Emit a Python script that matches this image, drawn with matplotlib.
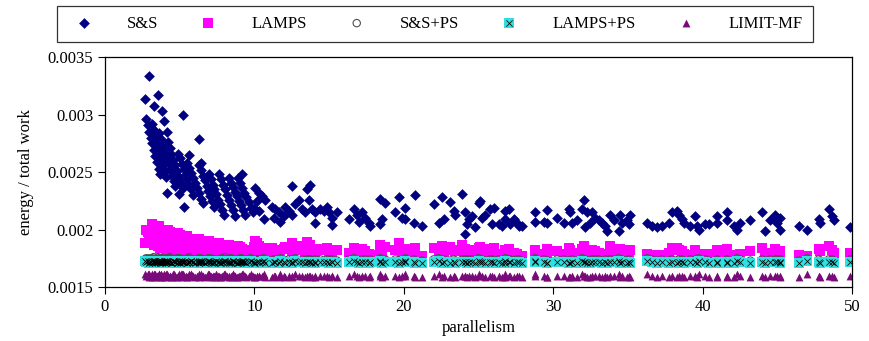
import matplotlib
matplotlib.use("Agg")
import matplotlib.pyplot as plt
from matplotlib.legend_handler import HandlerTuple
from matplotlib.ticker import FuncFormatter

plt.rcParams["font.family"] = ["Liberation Serif", "DejaVu Serif"]
plt.rcParams["font.size"] = 12

# parallelism of each benchmark run (shared by all five schedulers)
parallelism = [
    # dense low-parallelism runs
    2.75, 2.86, 2.96, 3.07, 3.17, 3.28, 3.38, 3.49, 3.59, 3.70,
    3.15, 3.26, 3.36, 3.47, 3.57, 3.68, 3.78, 3.89, 3.99, 4.10,
    3.60, 3.72, 3.85, 3.98, 4.10, 4.22, 4.35, 4.48, 4.60,
    4.20, 4.32, 4.45, 4.58, 4.70, 4.82, 4.95, 5.08, 5.20,
    4.90, 5.02, 5.15, 5.28, 5.40, 5.52, 5.65, 5.78, 5.90,
    5.50, 5.63, 5.76, 5.89, 6.02, 6.16, 6.29, 6.42, 6.55,
    6.30, 6.42, 6.55, 6.68, 6.80, 6.92, 7.05, 7.18, 7.30,
    6.95, 7.07, 7.20, 7.33, 7.45, 7.57, 7.70, 7.83, 7.95,
    7.60, 7.74, 7.88, 8.01, 8.15, 8.29, 8.43, 8.56, 8.70,
    8.30, 8.44, 8.58, 8.71, 8.85, 8.99, 9.13, 9.26, 9.40,
    8.90, 9.04, 9.19, 9.33, 9.47, 9.61, 9.76, 9.90,
    2.92, 2.70, 3.55, 3.26, 3.82, 5.20, 3.92, 4.15, 6.27, 5.64,
    6.45, 4.15, 5.27, 4.71, 4.93, 9.15,
    # 10 .. 30
    10.06, 10.29, 10.51, 10.73, 10.17, 9.95, 10.29, 10.62, 11.18, 11.40,
    11.62, 11.29, 11.74, 11.96, 12.07, 12.29, 12.52, 12.52, 12.96, 12.74,
    13.19, 13.41, 13.52, 13.74, 13.63, 13.86, 14.08, 14.08, 14.41, 14.64,
    14.86, 14.97, 15.19, 15.19, 15.53, 16.31, 16.64, 16.87, 17.20, 16.98,
    17.43, 17.65, 17.76, 18.43, 18.76, 18.54, 18.43, 19.43, 19.66, 20.10,
    19.88, 20.10, 20.77, 20.66, 21.22, 22.00, 22.56, 22.33, 22.67, 23.11,
    23.34, 23.90, 23.45, 24.12, 24.34, 24.23, 24.57, 24.79, 24.12, 25.01,
    25.12, 25.23, 25.46, 25.79, 26.01, 25.90, 26.35, 26.57, 26.80, 27.02,
    26.80, 27.13, 27.35, 27.58, 27.69, 27.91, 28.80, 28.80, 29.59, 29.36, 29.59,
    # 30 .. 50
    30.26, 30.70, 31.04, 31.15, 31.26,
    31.59, 32.04, 31.93, 32.26, 32.60, 32.49, 32.15, 32.82, 33.04, 33.27,
    33.49, 33.60, 33.83, 34.05, 34.38, 34.50, 34.61, 34.94, 35.16, 35.05,
    36.28, 36.61, 36.95, 37.28, 37.73, 37.95, 38.29, 38.40, 38.62, 38.73,
    39.18, 39.52, 39.63, 39.74, 40.18, 40.41, 40.97, 40.97,
    41.63, 41.63, 42.08, 42.30, 42.53, 43.20, 43.98, 44.20, 44.53, 44.87,
    44.98, 45.20, 45.20, 46.43, 46.99, 47.77, 47.88, 48.44, 48.66, 48.77, 49.89,
]

ss = [
    0.00296, 0.00291, 0.00285, 0.00280, 0.00275, 0.00269, 0.00264, 0.00259, 0.00253, 0.00248,
    0.00292, 0.00287, 0.00282, 0.00277, 0.00272, 0.00266, 0.00261, 0.00256, 0.00251, 0.00246,
    0.00284, 0.00279, 0.00273, 0.00268, 0.00263, 0.00258, 0.00252, 0.00247, 0.00242,
    0.00276, 0.00271, 0.00266, 0.00261, 0.00256, 0.00251, 0.00246, 0.00241, 0.00236,
    0.00266, 0.00262, 0.00257, 0.00253, 0.00248, 0.00244, 0.00239, 0.00235, 0.00230,
    0.00258, 0.00254, 0.00249, 0.00245, 0.00241, 0.00236, 0.00232, 0.00227, 0.00223,
    0.00256, 0.00252, 0.00247, 0.00243, 0.00238, 0.00234, 0.00229, 0.00225, 0.00220,
    0.00248, 0.00244, 0.00239, 0.00235, 0.00231, 0.00226, 0.00222, 0.00217, 0.00213,
    0.00248, 0.00244, 0.00239, 0.00235, 0.00230, 0.00226, 0.00221, 0.00217, 0.00212,
    0.00245, 0.00241, 0.00237, 0.00233, 0.00229, 0.00225, 0.00221, 0.00217, 0.00213,
    0.00245, 0.00241, 0.00236, 0.00232, 0.00228, 0.00224, 0.00219, 0.00215,
    0.00334, 0.00314, 0.00317, 0.00308, 0.00303, 0.00300, 0.00295, 0.00285, 0.00279, 0.00265,
    0.00258, 0.00232, 0.00220, 0.00238, 0.00231, 0.00248,
    0.00236, 0.00232, 0.00229, 0.00226, 0.00225, 0.00219, 0.00216, 0.00209, 0.00220, 0.00218,
    0.00215, 0.00210, 0.00207, 0.00212, 0.00220, 0.00216, 0.00213, 0.00238, 0.00226, 0.00222,
    0.00218, 0.00215, 0.00235, 0.00239, 0.00226, 0.00218, 0.00215, 0.00206, 0.00218, 0.00216,
    0.00220, 0.00215, 0.00210, 0.00204, 0.00215, 0.00209, 0.00218, 0.00213, 0.00215, 0.00207,
    0.00210, 0.00206, 0.00203, 0.00227, 0.00223, 0.00209, 0.00205, 0.00215, 0.00228, 0.00219,
    0.00210, 0.00209, 0.00230, 0.00206, 0.00203, 0.00222, 0.00228, 0.00206, 0.00209, 0.00224,
    0.00216, 0.00231, 0.00213, 0.00215, 0.00209, 0.00205, 0.00212, 0.00202, 0.00196, 0.00223,
    0.00225, 0.00210, 0.00213, 0.00218, 0.00219, 0.00205, 0.00205, 0.00203, 0.00216, 0.00218,
    0.00209, 0.00205, 0.00209, 0.00206, 0.00203, 0.00203, 0.00215, 0.00207, 0.00217, 0.00207, 0.00206,
    0.00210, 0.00206, 0.00218, 0.00215, 0.00206,
    0.00208, 0.00226, 0.00218, 0.00215, 0.00215, 0.00206, 0.00202, 0.00210, 0.00208, 0.00206,
    0.00203, 0.00199, 0.00213, 0.00208, 0.00199, 0.00213, 0.00206, 0.00208, 0.00213, 0.00205,
    0.00206, 0.00203, 0.00202, 0.00203, 0.00206, 0.00215, 0.00216, 0.00213, 0.00209, 0.00206,
    0.00203, 0.00212, 0.00203, 0.00200, 0.00205, 0.00205, 0.00212, 0.00206,
    0.00215, 0.00208, 0.00203, 0.00200, 0.00206, 0.00208, 0.00215, 0.00199, 0.00208, 0.00213,
    0.00206, 0.00210, 0.00200, 0.00203, 0.00200, 0.00209, 0.00206, 0.00218, 0.00212, 0.00208, 0.00202,
]

lamps = [
    0.00200, 0.00198, 0.00196, 0.00195, 0.00193, 0.00191, 0.00189, 0.00188, 0.00186, 0.00184,
    0.00205, 0.00203, 0.00200, 0.00198, 0.00195, 0.00193, 0.00190, 0.00188, 0.00185, 0.00183,
    0.00203, 0.00200, 0.00197, 0.00195, 0.00192, 0.00189, 0.00186, 0.00184, 0.00181,
    0.00200, 0.00198, 0.00195, 0.00193, 0.00190, 0.00188, 0.00185, 0.00183, 0.00180,
    0.00197, 0.00195, 0.00193, 0.00190, 0.00188, 0.00186, 0.00184, 0.00181, 0.00179,
    0.00194, 0.00192, 0.00190, 0.00188, 0.00186, 0.00184, 0.00182, 0.00180, 0.00178,
    0.00192, 0.00190, 0.00188, 0.00186, 0.00185, 0.00183, 0.00181, 0.00179, 0.00177,
    0.00190, 0.00188, 0.00187, 0.00185, 0.00183, 0.00182, 0.00180, 0.00179, 0.00177,
    0.00188, 0.00187, 0.00185, 0.00184, 0.00183, 0.00181, 0.00180, 0.00179, 0.00177,
    0.00187, 0.00186, 0.00184, 0.00183, 0.00182, 0.00180, 0.00179, 0.00178, 0.00176,
    0.00186, 0.00185, 0.00183, 0.00182, 0.00181, 0.00179, 0.00178, 0.00176,
    0.00190, 0.00188, 0.00186, 0.00187, 0.00185, 0.00184, 0.00186, 0.00189, 0.00183, 0.00185,
    0.00182, 0.00181, 0.00180, 0.00182, 0.00181, 0.00180,
    0.00190, 0.00186, 0.00184, 0.00182, 0.00188, 0.00185, 0.00181, 0.00178, 0.00184, 0.00182,
    0.00180, 0.00179, 0.00177, 0.00183, 0.00185, 0.00183, 0.00181, 0.00188, 0.00186, 0.00184,
    0.00182, 0.00180, 0.00189, 0.00187, 0.00184, 0.00182, 0.00180, 0.00177, 0.00183, 0.00182,
    0.00184, 0.00181, 0.00179, 0.00177, 0.00182, 0.00180, 0.00184, 0.00182, 0.00183, 0.00179,
    0.00181, 0.00179, 0.00178, 0.00187, 0.00185, 0.00180, 0.00178, 0.00182, 0.00188, 0.00183,
    0.00180, 0.00179, 0.00184, 0.00178, 0.00177, 0.00184, 0.00186, 0.00179, 0.00180, 0.00185,
    0.00182, 0.00187, 0.00181, 0.00183, 0.00180, 0.00178, 0.00182, 0.00177, 0.00176, 0.00184,
    0.00185, 0.00180, 0.00181, 0.00183, 0.00184, 0.00178, 0.00179, 0.00178, 0.00182, 0.00183,
    0.00180, 0.00178, 0.00180, 0.00179, 0.00177, 0.00177, 0.00182, 0.00179, 0.00183, 0.00179, 0.00178,
    0.00181, 0.00179, 0.00184, 0.00182, 0.00178,
    0.00180, 0.00186, 0.00183, 0.00182, 0.00182, 0.00179, 0.00177, 0.00181, 0.00180, 0.00179,
    0.00178, 0.00176, 0.00186, 0.00181, 0.00176, 0.00183, 0.00179, 0.00180, 0.00182, 0.00178,
    0.00179, 0.00178, 0.00177, 0.00178, 0.00180, 0.00184, 0.00184, 0.00182, 0.00181, 0.00179,
    0.00178, 0.00182, 0.00178, 0.00176, 0.00179, 0.00179, 0.00182, 0.00179,
    0.00183, 0.00180, 0.00178, 0.00176, 0.00179, 0.00181, 0.00184, 0.00176, 0.00180, 0.00183,
    0.00179, 0.00181, 0.00177, 0.00178, 0.00177, 0.00183, 0.00181, 0.00186, 0.00182, 0.00180, 0.00180,
]

ss_ps = [
    0.00175, 0.00174, 0.00174, 0.00173, 0.00175, 0.00174, 0.00173, 0.00174, 0.00175, 0.00173,
    0.00174, 0.00176, 0.00174, 0.00173, 0.00174, 0.00175, 0.00174, 0.00173, 0.00174, 0.00174,
    0.00173, 0.00174, 0.00175, 0.00174, 0.00173, 0.00174, 0.00176, 0.00174, 0.00173, 0.00174,
    0.00175, 0.00173, 0.00174, 0.00174, 0.00175, 0.00173, 0.00174, 0.00174, 0.00173, 0.00175,
    0.00174, 0.00174, 0.00173, 0.00175, 0.00174, 0.00174, 0.00173, 0.00174, 0.00176, 0.00174,
    0.00173, 0.00174, 0.00174, 0.00175, 0.00174, 0.00173, 0.00174, 0.00175, 0.00174, 0.00173,
    0.00174, 0.00175, 0.00173, 0.00174, 0.00174, 0.00173, 0.00175, 0.00174, 0.00174, 0.00173,
    0.00174, 0.00173, 0.00175, 0.00174, 0.00173, 0.00174, 0.00174, 0.00176, 0.00174, 0.00173,
    0.00175, 0.00174, 0.00173, 0.00174, 0.00175, 0.00174, 0.00173, 0.00174, 0.00174, 0.00175,
    0.00174, 0.00173, 0.00174, 0.00175, 0.00174, 0.00173, 0.00174, 0.00174, 0.00175, 0.00174,
    0.00175, 0.00174, 0.00176, 0.00174, 0.00175, 0.00174, 0.00174, 0.00175, 0.00174, 0.00174,
    0.00174, 0.00175, 0.00174, 0.00174, 0.00175, 0.00174, 0.00173, 0.00174, 0.00174, 0.00173,
    0.00174, 0.00173, 0.00174, 0.00175, 0.00173, 0.00174, 0.00173, 0.00174, 0.00175, 0.00173,
    0.00173, 0.00174, 0.00173, 0.00174, 0.00173, 0.00175, 0.00174, 0.00173, 0.00174, 0.00174,
    0.00174, 0.00173, 0.00174, 0.00173, 0.00174, 0.00173, 0.00174, 0.00174, 0.00173, 0.00174,
    0.00173, 0.00174, 0.00175, 0.00173, 0.00174, 0.00173, 0.00174, 0.00173, 0.00174, 0.00175,
    0.00174, 0.00173, 0.00174, 0.00174, 0.00173, 0.00175, 0.00173, 0.00174, 0.00173, 0.00174,
    0.00173, 0.00174, 0.00173, 0.00175, 0.00174, 0.00173, 0.00174, 0.00174, 0.00173, 0.00174,
    0.00174, 0.00173, 0.00174, 0.00173, 0.00174, 0.00175, 0.00173, 0.00174, 0.00173, 0.00174,
    0.00173, 0.00174, 0.00174, 0.00173, 0.00175, 0.00174, 0.00173, 0.00174, 0.00173, 0.00174,
    0.00174, 0.00173, 0.00175, 0.00174, 0.00173, 0.00174, 0.00173, 0.00174, 0.00174, 0.00173,
    0.00173, 0.00174, 0.00173, 0.00174, 0.00175, 0.00173, 0.00174, 0.00173, 0.00174, 0.00174,
    0.00174, 0.00173, 0.00174, 0.00173, 0.00174, 0.00174, 0.00175, 0.00173, 0.00174, 0.00173,
    0.00173, 0.00174, 0.00175, 0.00174, 0.00173, 0.00174, 0.00173, 0.00174, 0.00173, 0.00174,
    0.00174, 0.00173, 0.00174, 0.00174, 0.00173, 0.00175, 0.00174, 0.00173, 0.00174, 0.00173,
    0.00173, 0.00174, 0.00173, 0.00175, 0.00174, 0.00173, 0.00174, 0.00173, 0.00174, 0.00174,
    0.00174, 0.00173, 0.00174, 0.00173, 0.00175, 0.00174, 0.00173, 0.00174, 0.00174, 0.00173,
    0.00174,
]

lamps_ps = [
    0.00172, 0.00173, 0.00171, 0.00172, 0.00173, 0.00172, 0.00171, 0.00172, 0.00173, 0.00172,
    0.00171, 0.00172, 0.00173, 0.00172, 0.00172, 0.00171, 0.00173, 0.00172, 0.00171, 0.00172,
    0.00173, 0.00172, 0.00171, 0.00172, 0.00173, 0.00172, 0.00172, 0.00171, 0.00173, 0.00172,
    0.00172, 0.00171, 0.00173, 0.00172, 0.00171, 0.00172, 0.00173, 0.00172, 0.00172, 0.00171,
    0.00173, 0.00172, 0.00172, 0.00171, 0.00172, 0.00173, 0.00172, 0.00171, 0.00172, 0.00173,
    0.00172, 0.00171, 0.00172, 0.00173, 0.00172, 0.00172, 0.00171, 0.00173, 0.00172, 0.00171,
    0.00172, 0.00173, 0.00172, 0.00171, 0.00172, 0.00173, 0.00172, 0.00172, 0.00171, 0.00173,
    0.00172, 0.00171, 0.00172, 0.00173, 0.00172, 0.00171, 0.00172, 0.00173, 0.00172, 0.00172,
    0.00171, 0.00173, 0.00172, 0.00171, 0.00172, 0.00173, 0.00172, 0.00171, 0.00172, 0.00172,
    0.00173, 0.00172, 0.00171, 0.00172, 0.00173, 0.00172, 0.00171, 0.00172, 0.00173, 0.00172,
    0.00172, 0.00173, 0.00172, 0.00173, 0.00172, 0.00172, 0.00173, 0.00172, 0.00172, 0.00172,
    0.00172, 0.00173, 0.00172, 0.00172, 0.00173, 0.00172, 0.00171, 0.00172, 0.00172, 0.00171,
    0.00172, 0.00171, 0.00172, 0.00173, 0.00171, 0.00172, 0.00171, 0.00172, 0.00173, 0.00172,
    0.00171, 0.00172, 0.00171, 0.00172, 0.00172, 0.00173, 0.00172, 0.00171, 0.00172, 0.00172,
    0.00172, 0.00171, 0.00172, 0.00171, 0.00172, 0.00172, 0.00172, 0.00171, 0.00172, 0.00172,
    0.00171, 0.00172, 0.00173, 0.00172, 0.00172, 0.00171, 0.00172, 0.00171, 0.00172, 0.00173,
    0.00172, 0.00171, 0.00172, 0.00172, 0.00171, 0.00173, 0.00172, 0.00172, 0.00171, 0.00172,
    0.00171, 0.00172, 0.00171, 0.00173, 0.00172, 0.00171, 0.00172, 0.00172, 0.00171, 0.00172,
    0.00172, 0.00171, 0.00172, 0.00171, 0.00172, 0.00173, 0.00172, 0.00172, 0.00171, 0.00172,
    0.00171, 0.00172, 0.00172, 0.00171, 0.00173, 0.00172, 0.00171, 0.00172, 0.00171, 0.00172,
    0.00172, 0.00171, 0.00173, 0.00172, 0.00171, 0.00172, 0.00171, 0.00172, 0.00172, 0.00171,
    0.00171, 0.00172, 0.00171, 0.00172, 0.00173, 0.00171, 0.00172, 0.00171, 0.00172, 0.00172,
    0.00172, 0.00171, 0.00172, 0.00171, 0.00172, 0.00172, 0.00173, 0.00171, 0.00172, 0.00171,
    0.00171, 0.00172, 0.00173, 0.00172, 0.00171, 0.00172, 0.00171, 0.00172, 0.00171, 0.00172,
    0.00172, 0.00171, 0.00172, 0.00172, 0.00171, 0.00173, 0.00172, 0.00171, 0.00172, 0.00171,
    0.00171, 0.00172, 0.00171, 0.00173, 0.00172, 0.00171, 0.00172, 0.00171, 0.00172, 0.00172,
    0.00172, 0.00171, 0.00172, 0.00171, 0.00173, 0.00172, 0.00171, 0.00172, 0.00172, 0.00171,
    0.00172,
]

limit_mf = [
    0.00160, 0.00161, 0.00159, 0.00160, 0.00161, 0.00160, 0.00159, 0.00160, 0.00161, 0.00160,
    0.00159, 0.00160, 0.00161, 0.00160, 0.00160, 0.00159, 0.00161, 0.00160, 0.00159, 0.00160,
    0.00161, 0.00160, 0.00159, 0.00160, 0.00161, 0.00160, 0.00160, 0.00159, 0.00161, 0.00160,
    0.00160, 0.00159, 0.00161, 0.00160, 0.00159, 0.00160, 0.00161, 0.00160, 0.00160, 0.00159,
    0.00161, 0.00160, 0.00160, 0.00159, 0.00160, 0.00161, 0.00160, 0.00159, 0.00160, 0.00161,
    0.00160, 0.00159, 0.00160, 0.00161, 0.00160, 0.00160, 0.00159, 0.00161, 0.00160, 0.00159,
    0.00160, 0.00161, 0.00160, 0.00159, 0.00160, 0.00161, 0.00160, 0.00160, 0.00159, 0.00161,
    0.00160, 0.00159, 0.00160, 0.00161, 0.00160, 0.00159, 0.00160, 0.00161, 0.00160, 0.00160,
    0.00159, 0.00161, 0.00160, 0.00159, 0.00160, 0.00161, 0.00160, 0.00159, 0.00160, 0.00160,
    0.00161, 0.00160, 0.00159, 0.00160, 0.00161, 0.00160, 0.00159, 0.00160, 0.00161, 0.00160,
    0.00161, 0.00161, 0.00160, 0.00161, 0.00160, 0.00161, 0.00161, 0.00160, 0.00160, 0.00161,
    0.00160, 0.00161, 0.00160, 0.00160, 0.00161, 0.00160, 0.00159, 0.00160, 0.00160, 0.00159,
    0.00160, 0.00159, 0.00160, 0.00161, 0.00159, 0.00160, 0.00159, 0.00160, 0.00161, 0.00160,
    0.00159, 0.00160, 0.00159, 0.00160, 0.00160, 0.00161, 0.00160, 0.00159, 0.00160, 0.00160,
    0.00160, 0.00159, 0.00160, 0.00159, 0.00160, 0.00160, 0.00160, 0.00159, 0.00160, 0.00160,
    0.00159, 0.00160, 0.00161, 0.00160, 0.00160, 0.00159, 0.00160, 0.00159, 0.00160, 0.00161,
    0.00160, 0.00159, 0.00160, 0.00160, 0.00159, 0.00161, 0.00160, 0.00160, 0.00159, 0.00160,
    0.00159, 0.00160, 0.00159, 0.00161, 0.00160, 0.00159, 0.00160, 0.00160, 0.00159, 0.00160,
    0.00160, 0.00159, 0.00160, 0.00159, 0.00160, 0.00161, 0.00160, 0.00160, 0.00159, 0.00160,
    0.00159, 0.00160, 0.00160, 0.00159, 0.00161, 0.00160, 0.00159, 0.00160, 0.00159, 0.00160,
    0.00160, 0.00159, 0.00161, 0.00160, 0.00159, 0.00160, 0.00159, 0.00160, 0.00160, 0.00159,
    0.00159, 0.00160, 0.00159, 0.00160, 0.00161, 0.00159, 0.00160, 0.00159, 0.00160, 0.00160,
    0.00160, 0.00159, 0.00160, 0.00159, 0.00160, 0.00160, 0.00161, 0.00159, 0.00160, 0.00159,
    0.00159, 0.00160, 0.00161, 0.00160, 0.00159, 0.00160, 0.00159, 0.00160, 0.00159, 0.00160,
    0.00160, 0.00159, 0.00160, 0.00160, 0.00159, 0.00161, 0.00160, 0.00159, 0.00160, 0.00159,
    0.00159, 0.00160, 0.00159, 0.00161, 0.00160, 0.00159, 0.00160, 0.00159, 0.00160, 0.00160,
    0.00160, 0.00159, 0.00160, 0.00159, 0.00161, 0.00160, 0.00159, 0.00160, 0.00160, 0.00159,
    0.00160,
]

labels = ["S&S", "LAMPS", "S&S+PS", "LAMPS+PS", "LIMIT-MF"]

fig = plt.figure(figsize=(8.69, 3.41), dpi=100)
ax = fig.add_axes([0.1208, 0.1584, 0.8596, 0.6733])

h_ss = ax.scatter(parallelism, ss, marker="D", s=30, color="#000080", linewidths=0)
h_lamps = ax.scatter(parallelism, lamps, marker="s", s=42, color="#ff00ff", linewidths=0)
h_ssps = ax.scatter(parallelism, ss_ps, marker="o", s=28, facecolors="none",
                    edgecolors="#505050", linewidths=0.8)
h_lp_box = ax.scatter(parallelism, lamps_ps, marker="s", s=44, color="#30e0e0", linewidths=0)
h_lp_x = ax.scatter(parallelism, lamps_ps, marker="x", s=20, color="black", linewidths=0.55)
h_lim = ax.scatter(parallelism, limit_mf, marker="^", s=32, color="#7a0a7a", linewidths=0)

ax.set_xlim(0, 50)
ax.set_ylim(0.0015, 0.0035)
ax.set_xticks([0, 10, 20, 30, 40, 50])
ax.set_yticks([0.0015, 0.002, 0.0025, 0.003, 0.0035])
ax.yaxis.set_major_formatter(FuncFormatter(lambda v, _: "%g" % v))
ax.tick_params(direction="out", length=5, width=0.8, top=False, right=False)
for sp in ax.spines.values():
    sp.set_linewidth(0.9)

ax.set_xlabel("parallelism", labelpad=4)
ax.set_ylabel("energy / total work", labelpad=10)

leg = fig.legend(
    [h_ss, h_lamps, h_ssps, (h_lp_box, h_lp_x), h_lim], labels,
    loc="center", bbox_to_anchor=(57 / 869, 1 - 42 / 341, 756 / 869, 37 / 341),
    mode="expand", ncol=5, frameon=True, fancybox=False, edgecolor="black",
    borderaxespad=0, borderpad=0.6, handletextpad=1.6, scatterpoints=1,
    handler_map={tuple: HandlerTuple(ndivide=1)},
)
leg.get_frame().set_linewidth(0.9)

fig.savefig("out.png", dpi=100)
